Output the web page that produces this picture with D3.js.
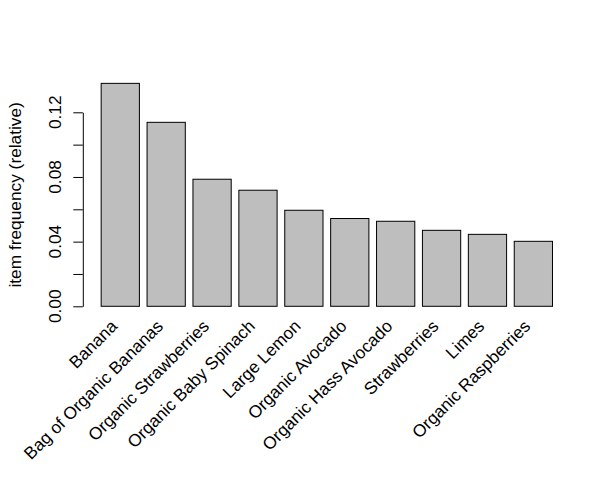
<!DOCTYPE html>
<html>
<head>
<meta charset="utf-8">
<script src="https://cdn.jsdelivr.net/npm/d3@7"></script>
<style>
  html, body { margin: 0; padding: 0; background: #fff; }
  svg { display: block; }
  text { font-family: "Liberation Sans", Arial, Helvetica, sans-serif; fill: #000; }
</style>
</head>
<body>
<svg id="chart" width="613" height="497"></svg>
<script>
const categories = ["Banana", "Bag of Organic Bananas", "Organic Strawberries", "Organic Baby Spinach",
  "Large Lemon", "Organic Avocado", "Organic Hass Avocado", "Strawberries", "Limes", "Organic Raspberries"];
const values = [0.1379, 0.1138, 0.0786, 0.0718, 0.0594, 0.0543, 0.0526, 0.0470, 0.0445, 0.0402];
const yTicks = [0, 0.02, 0.04, 0.06, 0.08, 0.10, 0.12];
const yTickLabels = ["0.00", "", "0.04", "", "0.08", "", "0.12"];
const yTitle = "item frequency (relative)";

const svg = d3.select("#chart");
const fontSize = 17.3;

// R barplot-like coordinates: bar i spans [0.2 + 1.2 i, 1.2 + 1.2 i]
const x = d3.scaleLinear().domain([-0.28, 12.68]).range([82.8, 578.5]);
const y = d3.scaleLinear().domain([0, 0.12]).range([306.3, 112.3]);

// bars
svg.append("g").selectAll("rect")
  .data(values)
  .join("rect")
  .attr("x", (d, i) => x(0.2 + 1.2 * i))
  .attr("width", (d, i) => x(1.2 + 1.2 * i) - x(0.2 + 1.2 * i))
  .attr("y", d => y(d))
  .attr("height", d => y(0) - y(d))
  .attr("fill", "#bebebe")
  .attr("stroke", "#000")
  .attr("stroke-width", 1);

// y axis
const axisG = svg.append("g").attr("transform", "translate(82.8,0)");
axisG.call(d3.axisLeft(y).tickValues(yTicks).tickSize(9.5).tickSizeOuter(0).tickFormat(""));
axisG.select(".domain").attr("stroke", "#000").attr("stroke-width", 1);
axisG.selectAll(".tick line").attr("stroke", "#000").attr("stroke-width", 1);

// y tick labels (rotated, R style)
svg.append("g").selectAll("text")
  .data(yTicks)
  .join("text")
  .attr("transform", (d) => `translate(60.5,${y(d)}) rotate(-90)`)
  .attr("text-anchor", "middle")
  .attr("font-size", fontSize)
  .text((d, i) => yTickLabels[i]);

// y title
svg.append("text")
  .attr("transform", `translate(20.5,${(y(-0.0055) + y(0.1434)) / 2}) rotate(-90)`)
  .attr("text-anchor", "middle")
  .attr("font-size", fontSize)
  .text(yTitle);

// x labels rotated 45 degrees
svg.append("g").selectAll("text")
  .data(categories)
  .join("text")
  .attr("transform", (d, i) => `translate(${x(0.7 + 1.2 * i) - 2},${327.3}) rotate(-45)`)
  .attr("text-anchor", "end")
  .attr("font-size", fontSize)
  .text(d => d);
</script>
</body>
</html>
